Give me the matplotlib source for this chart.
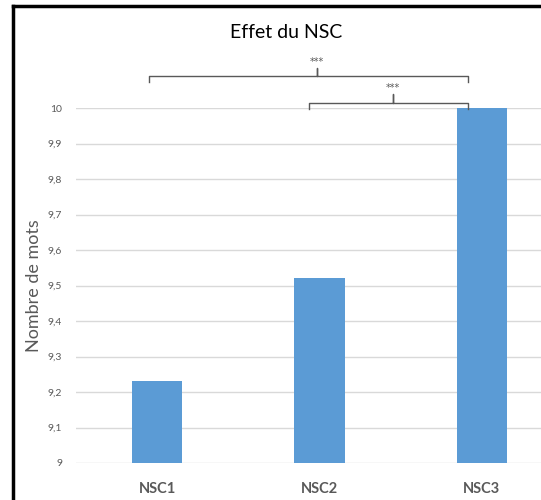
import matplotlib.pyplot as plt
from matplotlib.lines import Line2D

# data
categories = ['NSC1', 'NSC2', 'NSC3']
values = [9.23, 9.52, 10.0]
yticks = [9, 9.1, 9.2, 9.3, 9.4, 9.5, 9.6, 9.7, 9.8, 9.9, 10]
ytick_labels = ['9', '9,1', '9,2', '9,3', '9,4', '9,5', '9,6', '9,7', '9,8', '9,9', '10']

# significance brackets: (left x, right x, centre x, y level, label)
brackets = [(-0.05, 1.914, 0.985, 10.089, '***'),
            (0.935, 1.914, 1.45, 10.015, '***')]

plt.rcParams['font.family'] = ['Lato', 'DejaVu Sans']
grey = '#595959'

fig = plt.figure(figsize=(5.41, 5.0), dpi=100)
ax = fig.add_axes([76 / 541, 37 / 500, 487 / 541, 355 / 500])

x = list(range(len(categories)))
ax.bar(x, values, width=0.31, color='#5B9BD5', zorder=3)

ax.set_xlim(-0.5, 2.5)
ax.set_ylim(9, 10)
ax.set_yticks(yticks)
ax.set_yticklabels(ytick_labels, color=grey, fontsize=7.5)
ax.set_xticks(x)
ax.set_xticklabels(categories, color=grey, fontsize=10.5, fontweight='bold')
ax.tick_params(length=0)
ax.tick_params(axis='y', pad=10)
ax.tick_params(axis='x', pad=14)
ax.grid(axis='y', color='#d9d9d9', linewidth=1, zorder=0)
for s in ax.spines.values():
    s.set_visible(False)

ax.set_ylabel('Nombre de mots', color=grey, fontsize=13, labelpad=4)

# brackets
for x0, x1, xc, yl, lab in brackets:
    drop = 0.017
    rise = 0.025
    xs = [x0, x0, xc, xc, xc, x1, x1]
    ys = [yl - drop, yl, yl, yl + rise, yl, yl, yl - drop]
    ax.plot(xs, ys, color=grey, lw=1, clip_on=False, zorder=4,
            solid_joinstyle='round')
    ax.text(xc, yl + rise + 0.002, lab, ha='center', va='bottom',
            color=grey, fontsize=7, family='DejaVu Sans', clip_on=False)

fig.text(286 / 541, 1 - 32 / 500, 'Effet du NSC', ha='center', va='center',
         fontsize=14, color='black')

# black frame on the left and top
fig.add_artist(Line2D([13 / 541, 13 / 541], [0, 1 - 6 / 500],
                      transform=fig.transFigure, color='black', lw=2.5))
fig.add_artist(Line2D([13 / 541, 1], [1 - 6 / 500, 1 - 6 / 500],
                      transform=fig.transFigure, color='black', lw=2.5))

fig.savefig('out.png', dpi=100)
